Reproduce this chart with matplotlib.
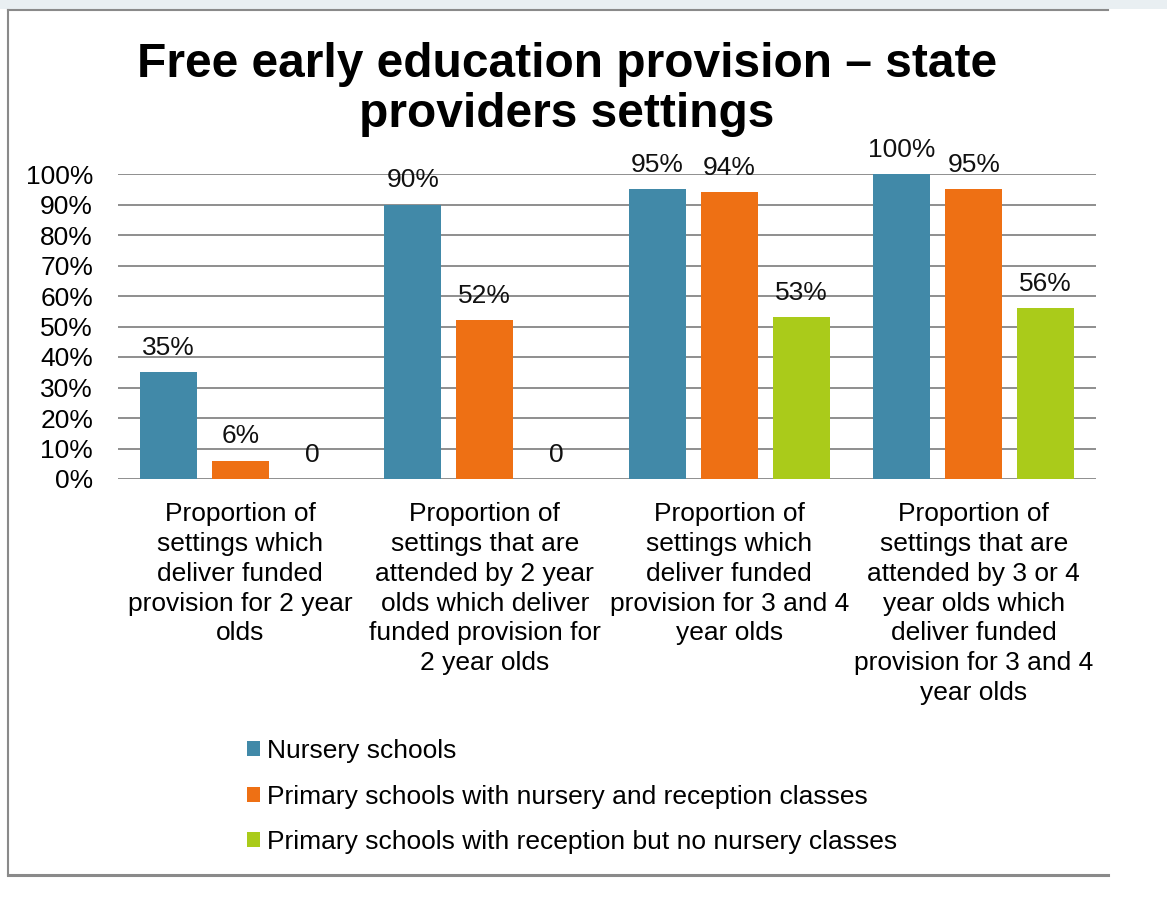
import matplotlib.pyplot as plt
import numpy as np
from matplotlib.patches import Patch, Rectangle
from matplotlib.lines import Line2D
from matplotlib.ticker import PercentFormatter

plt.rcParams['font.family'] = ['Liberation Sans', 'DejaVu Sans']

categories = [
    "Proportion of\nsettings which\ndeliver funded\nprovision for 2 year\nolds",
    "Proportion of\nsettings that are\nattended by 2 year\nolds which deliver\nfunded provision for\n2 year olds",
    "Proportion of\nsettings which\ndeliver funded\nprovision for 3 and 4\nyear olds",
    "Proportion of\nsettings that are\nattended by 3 or 4\nyear olds which\ndeliver funded\nprovision for 3 and 4\nyear olds",
]
series_names = [
    "Nursery schools",
    "Primary schools with nursery and reception classes",
    "Primary schools with reception but no nursery classes",
]
nursery = [0.35, 0.90, 0.95, 1.00]
primary_nursery = [0.06, 0.52, 0.94, 0.95]
primary_reception = [0.0, 0.0, 0.53, 0.56]
colors = ["#4189A8", "#EE7014", "#AACB1A"]

W, H = 1167, 911
FS = 19
fig = plt.figure(figsize=(W / 100, H / 100), dpi=100)

# light band along the top and the chart frame (no right edge)
fig.add_artist(Rectangle((0, 1 - 9 / H), 1, 9 / H, transform=fig.transFigure,
                         color="#E9EFF2", lw=0, zorder=0))
frame_kw = dict(color="#8A8A8A", lw=1.5, transform=fig.transFigure)
fig.add_artist(Line2D([8 / W, 8 / W], [1 - 10 / H, 1 - 875 / H], **frame_kw))
fig.add_artist(Line2D([8 / W, 1108 / W], [1 - 10 / H, 1 - 10 / H], **frame_kw))
fig.add_artist(Line2D([8 / W, 1108 / W], [1 - 875 / H, 1 - 875 / H], color="#8A8A8A",
                      lw=2.2, transform=fig.transFigure))

ax = fig.add_axes([118 / W, 1 - 479 / H, (1096 - 118) / W, (479 - 174) / H])

x = np.arange(len(categories))
bw = 0.233
step = 0.294
for i, (vals, c) in enumerate(zip([nursery, primary_nursery, primary_reception], colors)):
    pos = x + (i - 1) * step
    ax.bar(pos, vals, width=bw, color=c, zorder=3)
    for p, v in zip(pos, vals):
        lab = "0" if v == 0 else f"{v * 100:.0f}%"
        ax.annotate(lab, (p, v), xytext=(0, 9), textcoords="offset points",
                    ha="center", va="bottom", fontsize=FS, color="#111111")

ax.set_xlim(-0.5, len(categories) - 0.5)
ax.set_ylim(0, 1)
ax.set_yticks(np.arange(0, 1.01, 0.1))
ax.yaxis.set_major_formatter(PercentFormatter(1.0, decimals=0))
ax.grid(axis="y", color="#868686", lw=1.3, zorder=0)
for s in ["top", "right", "left", "bottom"]:
    ax.spines[s].set_visible(False)
ax.tick_params(axis="y", length=0, pad=18, labelsize=FS)
ax.set_xticks(x)
ax.set_xticklabels(categories, fontsize=FS, linespacing=1.31, va="top")
ax.tick_params(axis="x", length=0, pad=16.5)

fig.text(567 / W, 1 - 127 / H, "Free early education provision – state\nproviders settings",
         ha="center", va="baseline", fontsize=34.5, fontweight="bold", linespacing=1.13)

handles = [Patch(facecolor=c, edgecolor="none") for c in colors]
fig.legend(handles, series_names, loc="upper left", bbox_to_anchor=(247 / W, 1 - 739 / H),
           frameon=False, fontsize=FS, handlelength=0.5, handleheight=0.5,
           handletextpad=0.25, labelspacing=0.82, borderpad=0, borderaxespad=0)

fig.savefig("out.png", dpi=100, facecolor="white")
